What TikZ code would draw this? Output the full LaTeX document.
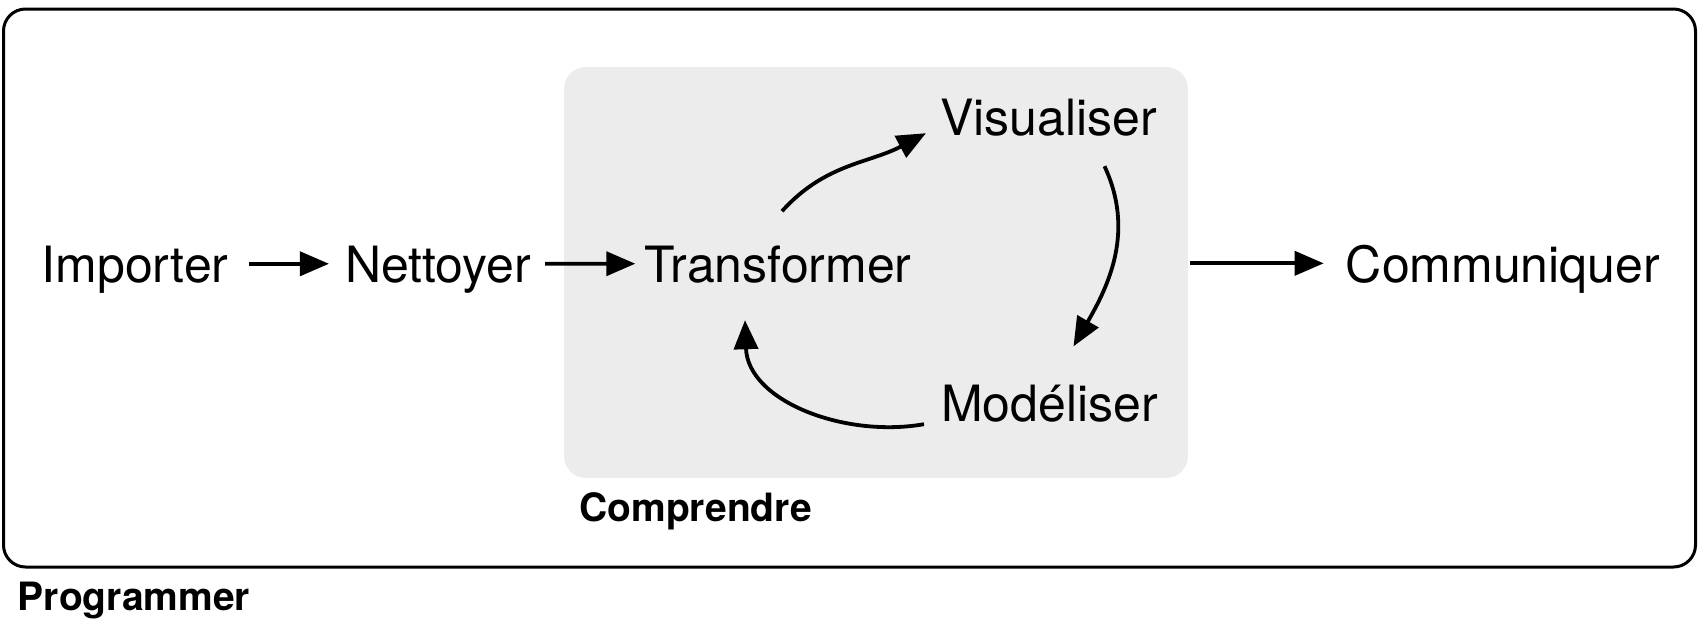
\documentclass[tikz,border=0pt]{standalone}
\usepackage{fontspec}
\setmainfont{TeX Gyre Heros}
\usetikzlibrary{arrows.meta}
\definecolor{fondgris}{gray}{0.925}
\tikzset{
	etape/.style={font=\fontsize{50}{60}\selectfont, inner sep=0pt, text depth=0pt, anchor=base},
	titre/.style={font=\bfseries\fontsize{39}{47}\selectfont, inner sep=0pt, anchor=base},
	fleche/.style={-{Triangle[length=29pt,width=24pt]}, line width=3.8pt},
}
\begin{document}
\begin{tikzpicture}[x=1pt,y=1pt]
	\useasboundingbox (0,0) rectangle (1698,-624);
	\draw [line width=3pt, rounded corners=22pt] (3.5,-9) rectangle (1695.5,-567);
	\node [fill=fondgris, rounded corners=22pt, minimum width=624pt, minimum height=411pt] (comp) at (876,-272.5) {};

	\node [etape] (imp) at (135,-282) {Importer};
	\node [etape] (net) at (438,-282) {Nettoyer};
	\node [etape] (tra) at (778,-282) {Transformer};
	\node [etape] (vis) at (1048.5,-135) {Visualiser};
	\node [etape] (mod) at (1049.5,-421) {Modéliser};
	\node [etape] (com) at (1503,-282) {Communiquer};

	\node [titre] (lcomp) at (695.5,-521) {Comprendre};
	\node [titre] (lprog) at (134,-610) {Programmer};

	\draw [fleche, shorten <=20pt, shorten >=16pt] (imp.east) -- (net.west);
	\draw [fleche, shorten <=14pt, shorten >=9pt] (net.east) -- (tra.west);
	\draw [fleche, shorten <=2pt, shorten >=22pt] (comp.east |- com.west) -- (com.west);

	\draw [fleche] ([shift={(4,34)}]tra.north) to[out=48,in=208] ([shift={(-14,2)}]vis.south west);
	\draw [fleche] ([shift={(56,-31)}]vis.south) to[out=-65,in=60] ([shift={(24,38)}]mod.north);
	\draw [fleche] ([shift={(-17,-3)}]mod.south west) to[out=190,in=-88] ([shift={(-33,-38)}]tra.south);
\end{tikzpicture}
\end{document}
